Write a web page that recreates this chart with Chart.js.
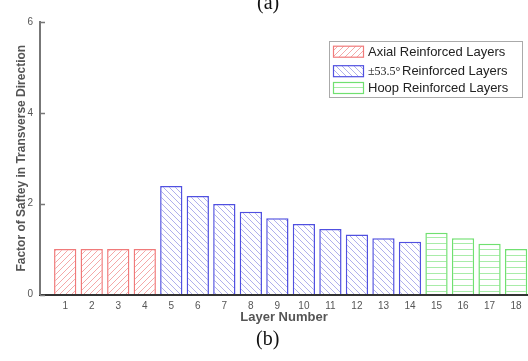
<!DOCTYPE html>
<html>
<head>
<meta charset="utf-8">
<script src="https://cdn.jsdelivr.net/npm/chart.js@4.4.0/dist/chart.umd.min.js"></script>
<style>
  body { margin: 0; background: #fff; }
  .wrap { position: relative; width: 528px; height: 361px; }
  .tag { position: absolute; font-family: "Liberation Serif", "Times New Roman", serif; font-size: 20px; line-height: 20px; color: #111; }
</style>
</head>
<body>
<div class="wrap">
  <canvas id="myChart" width="528" height="361"></canvas>
  <div class="tag" style="left:257px; top:-8px;">(a)</div>
  <div class="tag" style="left:256px; top:328px;">(b)</div>
</div>
<script>
const layerTicks = [1, 2, 3, 4, 5, 6, 7, 8, 9, 10, 11, 12, 13, 14, 15, 16, 17, 18];
const yTicks = [0, 2, 4, 6];

const axialLayers = [1, 2, 3, 4];
const axialValues = [1.0, 1.0, 1.0, 1.0];

const angleLayers = [5, 6, 7, 8, 9, 10, 11, 12, 13, 14];
const angleValues = [2.39, 2.17, 1.99, 1.82, 1.68, 1.55, 1.44, 1.32, 1.24, 1.16];

const hoopLayers = [15, 16, 17, 18];
const hoopValues = [1.36, 1.24, 1.12, 1.0];

const seriesLabels = ["Axial Reinforced Layers", "±53.5° Reinforced Layers", "Hoop Reinforced Layers"];

// hatch fills like the matlab bars
const makeHatch = (kind, color) => {
  const s = 6;
  const c = document.createElement("canvas");
  c.width = s;
  c.height = s;
  const g = c.getContext("2d");
  g.fillStyle = "#fff";
  g.fillRect(0, 0, s, s);
  g.strokeStyle = color;
  g.lineWidth = 1;
  g.beginPath();
  if (kind === "up") {
    g.moveTo(0, s); g.lineTo(s, 0);
    g.moveTo(-1, 1); g.lineTo(1, -1);
    g.moveTo(s - 1, s + 1); g.lineTo(s + 1, s - 1);
  } else if (kind === "down") {
    g.moveTo(0, 0); g.lineTo(s, s);
    g.moveTo(s - 1, -1); g.lineTo(s + 1, 1);
    g.moveTo(-1, s - 1); g.lineTo(1, s + 1);
  } else {
    g.moveTo(0, 3.5); g.lineTo(s, 3.5);
  }
  g.stroke();
  return g.createPattern(c, "repeat");
};

const toPoints = (xs, ys) => xs.map((x, i) => ({ x: x, y: ys[i] }));

const ctx = document.getElementById("myChart");

const legendBox = {
  id: "legendBox",
  afterDraw(chart) {
    const c = chart.ctx;
    c.save();
    // inward ticks on the y axis
    const ys = chart.scales.y;
    c.strokeStyle = "#777";
    c.lineWidth = 1.5;
    yTicks.forEach((v) => {
      const py = Math.round(ys.getPixelForValue(v)) + 0.5;
      c.beginPath();
      c.moveTo(ys.right, py);
      c.lineTo(ys.right + 5, py);
      c.stroke();
    });

    c.fillStyle = "#fff";
    c.fillRect(329.5, 41.5, 193, 56);
    c.strokeStyle = "#aaa";
    c.lineWidth = 1;
    c.strokeRect(329.5, 41.5, 193, 56);

    const rows = [51.7, 71.2, 88];
    chart.data.datasets.forEach((ds, i) => {
      const y = rows[i];
      c.fillStyle = ds.backgroundColor;
      c.fillRect(333, y - 5.5, 30, 11);
      c.strokeStyle = ds.borderColor;
      c.lineWidth = 1.2;
      c.strokeRect(333.5, y - 5.5, 30, 11);
      c.fillStyle = "#222";
      c.textBaseline = "middle";
      const label = ds.label;
      if (label.startsWith("±")) {
        const cut = label.indexOf(" ");
        c.font = "12px 'Liberation Serif', serif";
        c.fillText(label.slice(0, cut), 368, y + 0.5);
        c.font = "13px 'Liberation Sans', Arial, sans-serif";
        c.fillText(label.slice(cut + 1), 402, y + 0.5);
      } else {
        c.font = "13px 'Liberation Sans', Arial, sans-serif";
        c.fillText(label, 368, y + 0.5);
      }
    });
    c.restore();
  },
};

const barStyle = {
  borderWidth: 1.5,
  grouped: false,
  barPercentage: 0.84,
  categoryPercentage: 1,
};

const mychart = new Chart(ctx, {
  type: "bar",
  data: {
    datasets: [
      Object.assign({
        label: seriesLabels[0],
        data: toPoints(axialLayers, axialValues),
        backgroundColor: makeHatch("up", "#f4a8a8"),
        borderColor: "#f07a7a",
      }, barStyle),
      Object.assign({
        label: seriesLabels[1],
        data: toPoints(angleLayers, angleValues),
        backgroundColor: makeHatch("down", "#b0b0ec"),
        borderColor: "#5050e0",
      }, barStyle),
      Object.assign({
        label: seriesLabels[2],
        data: toPoints(hoopLayers, hoopValues),
        backgroundColor: makeHatch("flat", "#a8eca8"),
        borderColor: "#70e070",
      }, barStyle),
    ],
  },
  options: {
    responsive: false,
    animation: false,
    layout: { padding: { top: 22, left: 0, right: 0, bottom: 0 } },
    plugins: { legend: { display: false }, tooltip: { enabled: false } },
    scales: {
      x: {
        type: "linear",
        offset: false,
        min: 0.05,
        max: 18.45,
        afterBuildTicks: (scale) => {
          scale.ticks = layerTicks.map((v) => ({ value: v }));
        },
        afterFit: (scale) => {
          scale.height = 66.5;
        },
        ticks: {
          padding: 6,
          color: "#555",
          font: { family: "'Liberation Sans', Arial, sans-serif", size: 10 },
        },
        grid: { drawOnChartArea: false, drawTicks: false, offset: false },
        border: { color: "#333", width: 2 },
        title: {
          display: true,
          text: "Layer Number",
          color: "#555",
          padding: { top: 0, bottom: 36 },
          font: { family: "'Liberation Sans', Arial, sans-serif", size: 13, weight: "bold" },
        },
      },
      y: {
        min: 0,
        max: 6,
        afterBuildTicks: (scale) => {
          scale.ticks = yTicks.map((v) => ({ value: v }));
        },
        afterFit: (scale) => {
          scale.width = 40;
        },
        ticks: {
          padding: 7,
          color: "#555",
          font: { family: "'Liberation Sans', Arial, sans-serif", size: 10 },
        },
        grid: { drawOnChartArea: false, drawTicks: false },
        border: { color: "#777", width: 2 },
        title: {
          display: true,
          text: "Factor of Saftey in Transverse Direction",
          color: "#555",
          padding: { top: 14, bottom: 0 },
          font: { family: "'Liberation Sans', Arial, sans-serif", size: 12, weight: "bold" },
        },
      },
    },
  },
  plugins: [legendBox],
});
</script>
</body>
</html>
